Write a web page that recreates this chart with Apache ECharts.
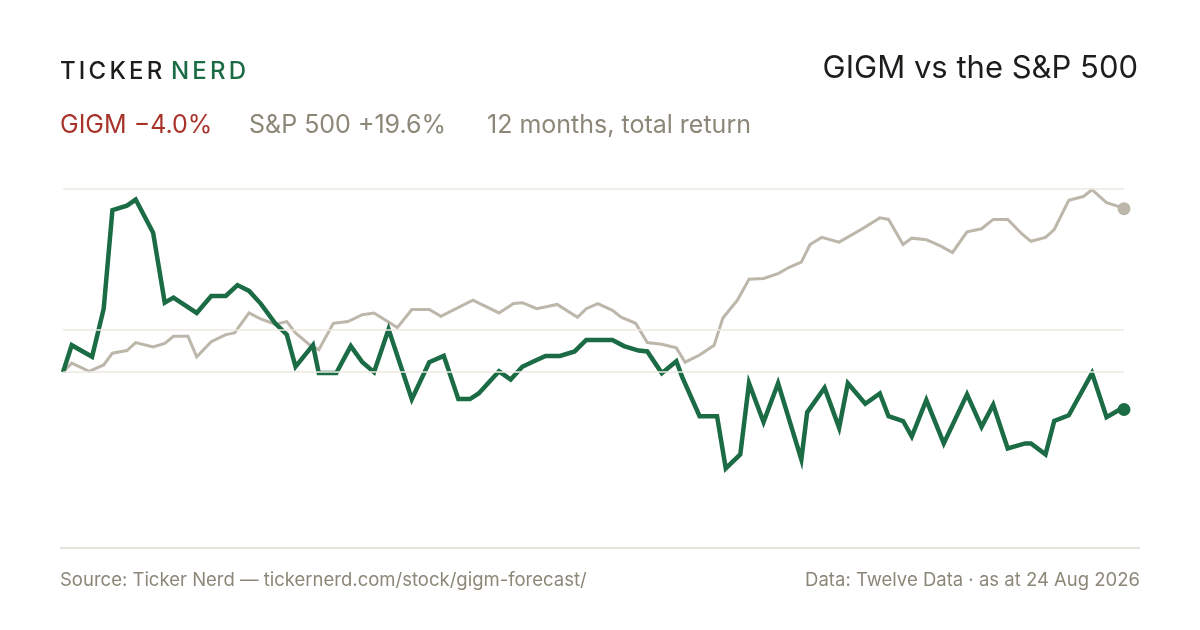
<!DOCTYPE html>
<html>
<head>
<meta charset="utf-8">
<script src="https://cdn.jsdelivr.net/npm/echarts@6/dist/echarts.min.js"></script>
<style>
  html, body {
    margin: 0;
    padding: 0;
    background: #ffffff;
  }
  #chart {
    width: 1200px;
    height: 630px;
  }
</style>
</head>
<body>
<div id="chart"></div>
<script type="text/javascript">
// growth of 100 over 12 months, days counted from 24 Aug 2025
var spxDays = [0, 3, 9, 14, 17, 22, 25, 31, 35, 38, 43, 46, 51, 56, 59, 64, 68, 73, 77, 80,
  85, 88, 93, 98, 103, 107, 115, 120, 126, 130, 141, 150, 155, 158, 163, 170, 177, 180, 184, 189,
  192, 197, 201, 206, 211, 214, 219, 224, 227, 232, 236, 241, 246, 250, 254, 257, 261, 267, 275, 281,
  284, 289, 292, 297, 302, 306, 311, 316, 320, 325, 330, 333, 338, 341, 346, 351, 354, 359, 363, 365];
var spxValues = [100.0, 101.0, 100.1, 100.8, 102.1, 102.4, 103.3, 102.8, 103.2, 104.0, 104.0, 101.7, 103.4, 104.2, 104.4, 106.7, 106.0, 105.4, 105.7, 104.4,
  103.0, 102.5, 105.5, 105.7, 106.5, 106.7, 105.0, 107.1, 107.1, 106.3, 108.2, 106.7, 107.8, 107.9, 107.2, 107.7, 106.2, 107.2, 107.8, 107.0,
  106.2, 105.5, 103.3, 103.1, 102.7, 101.1, 101.9, 103.0, 106.1, 108.2, 110.7, 110.8, 111.4, 112.2, 112.8, 115.0, 115.9, 115.3, 117.0, 118.4,
  118.2, 115.0, 115.8, 115.6, 114.8, 114.0, 116.6, 117.0, 118.2, 118.2, 116.3, 115.4, 115.9, 116.9, 120.7, 121.2, 122.1, 120.4, 119.9, 119.6];

var gigmDays = [0, 3, 10, 14, 17, 22, 25, 31, 35, 38, 46, 51, 56, 60, 64, 68, 73, 77, 80, 86,
  88, 94, 99, 103, 107, 112, 120, 126, 131, 136, 140, 143, 150, 154, 158, 162, 166, 171, 176, 180,
  189, 193, 198, 201, 206, 211, 213, 219, 225, 228, 233, 236, 241, 246, 254, 256, 262, 267, 270, 276,
  281, 284, 289, 292, 297, 303, 311, 316, 320, 325, 331, 333, 338, 341, 346, 354, 359, 363, 365];
var gigmValues = [100.0, 103.0, 101.7, 107.2, 119.4, 120.0, 120.8, 116.5, 107.9, 108.5, 106.7, 108.7, 108.7, 110.0, 109.3, 107.8, 105.5, 104.2, 100.6, 103.0,
  99.9, 99.9, 102.9, 101.1, 100.0, 104.8, 97.1, 101.1, 101.8, 97.1, 97.1, 97.7, 100.1, 99.2, 100.6, 101.2, 101.8, 101.8, 102.3, 103.6,
  103.6, 102.9, 102.4, 102.3, 99.9, 101.2, 99.5, 95.3, 95.3, 90.0, 91.4, 98.8, 94.7, 98.8, 90.9, 95.7, 98.3, 94.1, 98.8, 96.6,
  97.7, 95.3, 94.8, 93.2, 97.0, 92.5, 97.6, 94.2, 96.5, 92.0, 92.5, 92.5, 91.4, 94.8, 95.4, 99.9, 95.2, 95.9, 96.0];

var gridValues = [100, 104.8, 122.2];

var dom = document.getElementById('chart');
var myChart = echarts.init(dom, null, { renderer: 'canvas' });

var FONT = 'Inter, "Liberation Sans", sans-serif';
var GREEN = '#1b6b45';
var SAND = '#bdb6aa';
var MUTED = '#8c8778';

function pairs(xs, ys) {
  return xs.map(function (d, i) { return [d, ys[i]]; });
}

// brand mark, spaced out letter by letter
var ctx = document.createElement('canvas').getContext('2d');
ctx.font = '500 24px ' + FONT;
var brand = [];
var bx = 60;
'TICKER NERD'.split('').forEach(function (ch, i) {
  if (ch !== ' ') {
    brand.push({
      type: 'text', left: bx, top: 60,
      style: { text: ch, fill: i > 6 ? GREEN : '#1d1d1b', font: '500 24px ' + FONT }
    });
  }
  bx += ctx.measureText(ch).width + (ch === ' ' ? -1 : 3.2);
});

var option = {
  animation: false,
  backgroundColor: '#ffffff',
  grid: { left: 63, right: 76, top: 189, bottom: 82 },
  xAxis: {
    type: 'value',
    min: 0,
    max: 365,
    show: false
  },
  yAxis: {
    type: 'log',
    min: 82.5,
    max: 122.2,
    show: false,
    splitLine: { show: false }
  },
  graphic: brand.concat([
    {
      type: 'text', right: 62, top: 53,
      style: { text: 'GIGM vs the S&P 500', fill: '#1d1d1b', font: '31px ' + FONT }
    },
    {
      type: 'text', left: 60, top: 113,
      style: { text: 'GIGM \u22124.0%', fill: '#a8332b', font: '25px ' + FONT }
    },
    {
      type: 'text', left: 249, top: 113,
      style: { text: 'S&P 500 +19.6%', fill: MUTED, font: '25px ' + FONT }
    },
    {
      type: 'text', left: 487, top: 113,
      style: { text: '12 months, total return', fill: MUTED, font: '25px ' + FONT }
    },
    {
      type: 'line',
      shape: { x1: 60, y1: 548, x2: 1140, y2: 548 },
      style: { stroke: '#dedacf', lineWidth: 1.5 }
    },
    {
      type: 'text', left: 60, top: 571,
      style: { text: 'Source: Ticker Nerd \u2014 tickernerd.com/stock/gigm-forecast/', fill: MUTED, font: '18.5px ' + FONT }
    },
    {
      type: 'text', right: 60, top: 571,
      style: { text: 'Data: Twelve Data \u00b7 as at 24 Aug 2026', fill: MUTED, font: '18.5px ' + FONT }
    }
  ]),
  series: [
    {
      name: 'S&P 500',
      type: 'line',
      data: pairs(spxDays, spxValues),
      showSymbol: false,
      lineStyle: { color: SAND, width: 3, join: 'miter' },
      silent: true,
      markLine: {
        silent: true,
        symbol: 'none',
        label: { show: false },
        lineStyle: { color: '#ece8e0', width: 1.5, type: 'solid' },
        data: gridValues.map(function (v) { return { yAxis: v }; })
      }
    },
    {
      name: 'GIGM',
      type: 'line',
      data: pairs(gigmDays, gigmValues),
      showSymbol: false,
      lineStyle: { color: GREEN, width: 4.5, join: 'miter' },
      silent: true
    },
    {
      name: 'ends',
      type: 'scatter',
      symbolSize: 13,
      silent: true,
      data: [
        { value: [spxDays[spxDays.length - 1], spxValues[spxValues.length - 1]], itemStyle: { color: SAND, opacity: 1 } },
        { value: [gigmDays[gigmDays.length - 1], gigmValues[gigmValues.length - 1]], itemStyle: { color: GREEN, opacity: 1 } }
      ]
    }
  ]
};

if (option && typeof option === "object") {
  myChart.setOption(option, true);
}
</script>
</body>
</html>
